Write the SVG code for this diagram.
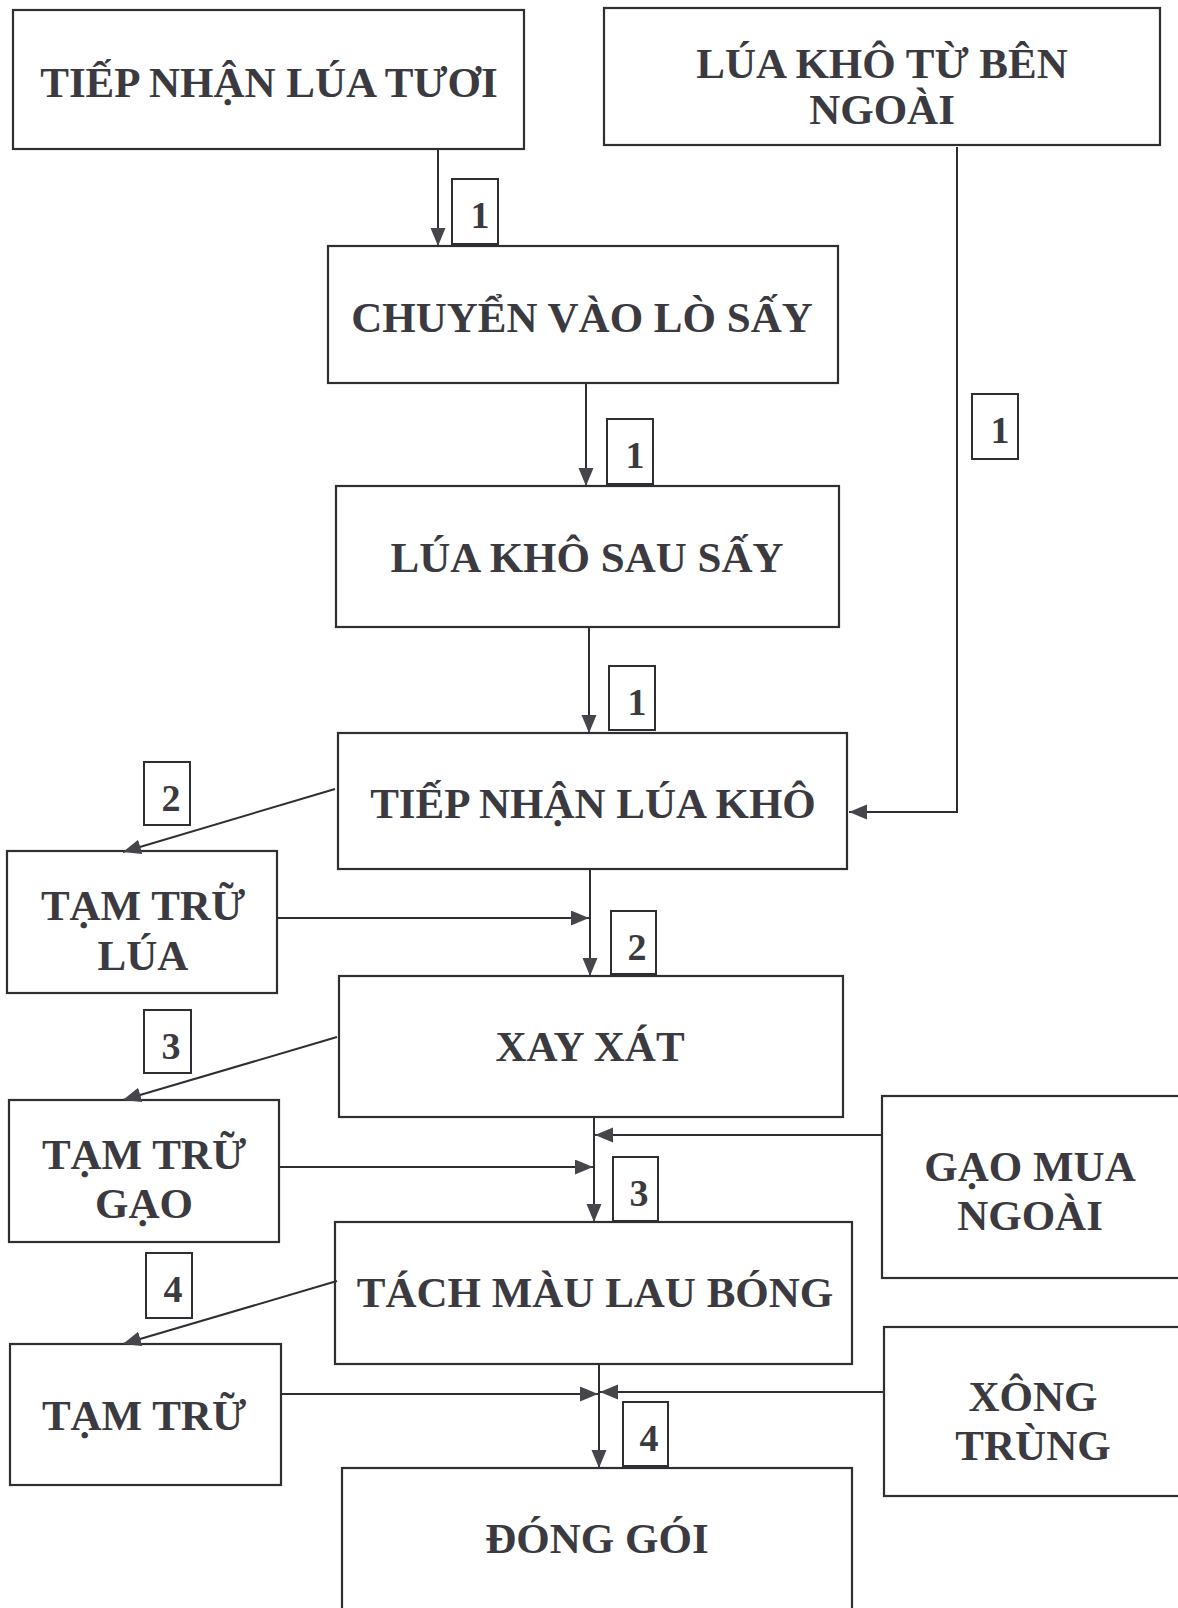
<svg xmlns="http://www.w3.org/2000/svg" width="1178" height="1608" viewBox="0 0 1178 1608">
<style>
.box{fill:none;stroke:#2e2e33;stroke-width:2.2}
.t{font-family:"Liberation Serif","Times New Roman",serif;font-weight:bold;font-size:43px;fill:#3a3a40;text-anchor:middle}
.n{font-family:"Liberation Serif","Times New Roman",serif;font-weight:bold;font-size:38px;fill:#3a3a40;text-anchor:middle}
.c{fill:none;stroke:#2e2e33;stroke-width:2}
.lb{fill:none;stroke:#2e2e33;stroke-width:2}
</style>
<defs>
<marker id="ah" markerUnits="userSpaceOnUse" markerWidth="20" markerHeight="16" refX="18" refY="7.5" orient="auto">
<path d="M0,0 L18,7.5 L0,15 Z" fill="#45454c"/>
</marker>
</defs>
<rect width="1178" height="1608" fill="#ffffff"/>

<g id="n-tiep-nhan-lua-tuoi">
<rect class="box" x="13" y="10" width="511" height="139"/>
<text class="t" x="269" y="97">TIẾP NHẬN LÚA TƯƠI</text>
</g>
<g id="n-lua-kho-ben-ngoai">
<rect class="box" x="604" y="8" width="556" height="137"/>
<text class="t" x="882" y="78">LÚA KHÔ TỪ BÊN</text>
<text class="t" x="882" y="124">NGOÀI</text>
</g>
<g id="n-chuyen-vao-lo-say">
<rect class="box" x="328" y="246" width="510" height="137"/>
<text class="t" x="582" y="332">CHUYỂN VÀO LÒ SẤY</text>
</g>
<g id="n-lua-kho-sau-say">
<rect class="box" x="336" y="486" width="503" height="141"/>
<text class="t" x="587" y="572">LÚA KHÔ SAU SẤY</text>
</g>
<g id="n-tiep-nhan-lua-kho">
<rect class="box" x="338" y="733" width="509" height="136"/>
<text class="t" x="593" y="818">TIẾP NHẬN LÚA KHÔ</text>
</g>
<g id="n-tam-tru-lua">
<rect class="box" x="7" y="851" width="270" height="142"/>
<text class="t" x="143" y="920">TẠM TRỮ</text>
<text class="t" x="143" y="970">LÚA</text>
</g>
<g id="n-xay-xat">
<rect class="box" x="339" y="976" width="504" height="141"/>
<text class="t" x="590" y="1061">XAY XÁT</text>
</g>
<g id="n-tam-tru-gao">
<rect class="box" x="9" y="1100" width="270" height="142"/>
<text class="t" x="144" y="1169">TẠM TRỮ</text>
<text class="t" x="144" y="1218">GẠO</text>
</g>
<g id="n-gao-mua-ngoai">
<rect class="box" x="882" y="1096" width="320" height="182"/>
<text class="t" x="1030" y="1181">GẠO MUA</text>
<text class="t" x="1030" y="1230">NGOÀI</text>
</g>
<g id="n-tach-mau-lau-bong">
<rect class="box" x="335" y="1222" width="517" height="142"/>
<text class="t" x="595" y="1307">TÁCH MÀU LAU BÓNG</text>
</g>
<g id="n-tam-tru">
<rect class="box" x="10" y="1344" width="271" height="141"/>
<text class="t" x="144" y="1430">TẠM TRỮ</text>
</g>
<g id="n-xong-trung">
<rect class="box" x="884" y="1327" width="320" height="169"/>
<text class="t" x="1033" y="1411">XÔNG</text>
<text class="t" x="1033" y="1460">TRÙNG</text>
</g>
<g id="n-dong-goi">
<rect class="box" x="342" y="1468" width="510" height="160"/>
<text class="t" x="597" y="1553">ĐÓNG GÓI</text>
</g>

<g id="connectors">
<line class="c" x1="438" y1="149" x2="438" y2="246" marker-end="url(#ah)"/>
<line class="c" x1="586" y1="383" x2="586" y2="486" marker-end="url(#ah)"/>
<line class="c" x1="589" y1="627" x2="589" y2="733" marker-end="url(#ah)"/>
<polyline class="c" points="957,147 957,812 849,812" marker-end="url(#ah)"/>
<line class="c" x1="335" y1="789" x2="123" y2="852" marker-end="url(#ah)"/>
<line class="c" x1="590" y1="869" x2="590" y2="976" marker-end="url(#ah)"/>
<line class="c" x1="277" y1="918" x2="589" y2="918" marker-end="url(#ah)"/>
<line class="c" x1="337" y1="1037" x2="123" y2="1100" marker-end="url(#ah)"/>
<line class="c" x1="594" y1="1117" x2="594" y2="1222" marker-end="url(#ah)"/>
<line class="c" x1="882" y1="1135" x2="595" y2="1135" marker-end="url(#ah)"/>
<line class="c" x1="279" y1="1167" x2="593" y2="1167" marker-end="url(#ah)"/>
<line class="c" x1="337" y1="1281" x2="123" y2="1344" marker-end="url(#ah)"/>
<line class="c" x1="599" y1="1364" x2="599" y2="1468" marker-end="url(#ah)"/>
<line class="c" x1="281" y1="1394" x2="598" y2="1394" marker-end="url(#ah)"/>
<line class="c" x1="884" y1="1392" x2="600" y2="1392" marker-end="url(#ah)"/>
</g>

<g id="labels">
<rect class="lb" x="452" y="179" width="46" height="65"/><text class="n" x="480" y="228">1</text>
<rect class="lb" x="607" y="419" width="46" height="65"/><text class="n" x="635" y="468">1</text>
<rect class="lb" x="609" y="666" width="46" height="64"/><text class="n" x="637" y="715">1</text>
<rect class="lb" x="972" y="394" width="46" height="65"/><text class="n" x="1000" y="443">1</text>
<rect class="lb" x="144" y="762" width="46" height="63"/><text class="n" x="171" y="811">2</text>
<rect class="lb" x="611" y="911" width="45" height="63"/><text class="n" x="637" y="960">2</text>
<rect class="lb" x="144" y="1010" width="47" height="63"/><text class="n" x="171" y="1059">3</text>
<rect class="lb" x="613" y="1157" width="45" height="64"/><text class="n" x="639" y="1206">3</text>
<rect class="lb" x="146" y="1253" width="46" height="65"/><text class="n" x="173" y="1302">4</text>
<rect class="lb" x="623" y="1402" width="45" height="64"/><text class="n" x="649" y="1451">4</text>
</g>
</svg>
